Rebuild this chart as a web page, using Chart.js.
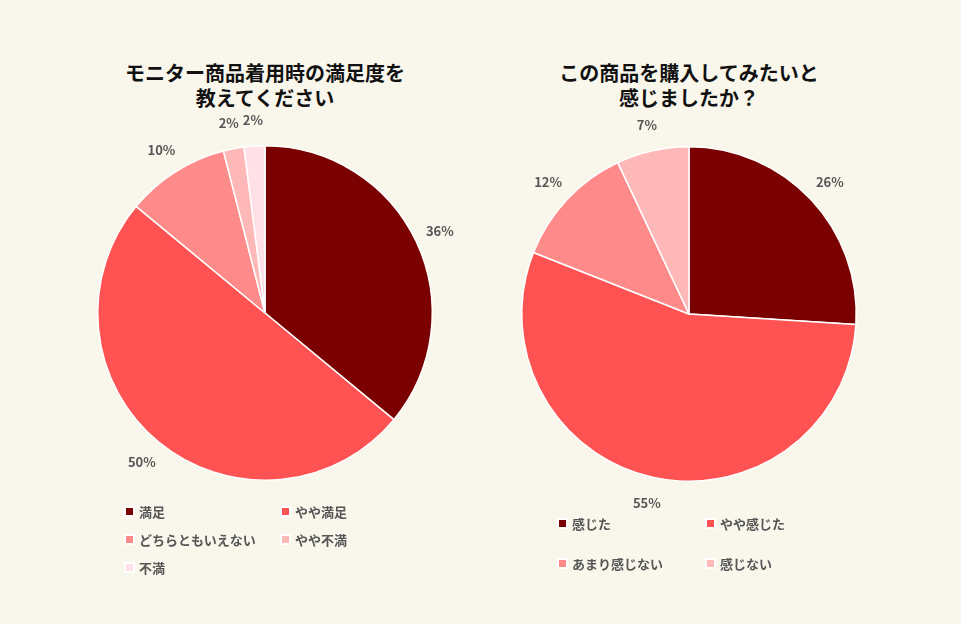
<!DOCTYPE html>
<html><head><meta charset="utf-8">
<script src="https://cdn.jsdelivr.net/npm/chart.js@4/dist/chart.umd.min.js"></script>
<style>
body{margin:0;width:961px;height:624px;background:#f9f7ec;position:relative;overflow:hidden;font-family:"Noto Sans CJK JP",sans-serif}
.t{position:absolute;width:440px;text-align:center;font-weight:bold;font-size:20px;line-height:25px;color:#111}
.c{position:absolute;width:440px;height:440px}
.lg{position:absolute;font-size:13px;font-weight:bold;color:#555}
.it{position:absolute;white-space:nowrap;display:flex;align-items:center}
.it i{display:inline-block;width:7px;height:7px;border:2px solid #fff;margin-right:4px}
</style></head><body>
<div class="t" style="left:45px;top:60px">モニター商品着用時の満足度を<br>教えてください</div>
<div class="t" style="left:469px;top:60px">この商品を購入してみたいと<br>感じましたか？</div>
<div class="c" style="left:45px;top:93px"><canvas id="a"></canvas></div>
<div class="c" style="left:469px;top:94px"><canvas id="b"></canvas></div>
<div class="lg" id="la"></div><div class="lg" id="lb"></div>
<script>
const labelsA=["満足","やや満足","どちらともいえない","やや不満","不満"];
const valuesA=[36,50,10,2,2];
const colorsA=["#7b0000","#ff5252","#ff8a8a","#ffb8b8","#ffe0e6"];
const labelsB=["感じた","やや感じた","あまり感じない","感じない"];
const valuesB=[26,55,12,7];
const colorsB=["#7b0000","#ff5252","#ff8a8a","#ffb8b8"];
const outLabels={id:'ol',afterDatasetsDraw(ch){const c=ch.ctx;const ds=ch.data.datasets[0];
 ch.getDatasetMeta(0).data.forEach((arc,i)=>{const m=(arc.startAngle+arc.endAngle)/2;const r=arc.outerRadius+26;
 c.save();c.font='bold 13px "Noto Sans CJK JP"';c.fillStyle='#555';c.textAlign='center';c.textBaseline='middle';
 c.fillText(ds.data[i]+'%',arc.x+Math.cos(m)*r,arc.y+Math.sin(m)*r);c.restore();});}};
function mk(id,l,v,col){return new Chart(document.getElementById(id),{type:'pie',data:{labels:l,datasets:[{data:v,backgroundColor:col,borderColor:'#fff',borderWidth:1.5}]},
 options:{responsive:false,animation:false,layout:{padding:52},plugins:{legend:{display:false},tooltip:{enabled:false}}},plugins:[outLabels]});}
document.getElementById('a').width=440;document.getElementById('a').height=440;
document.getElementById('b').width=440;document.getElementById('b').height=440;
mk('a',labelsA,valuesA,colorsA);mk('b',labelsB,valuesB,colorsB);
function leg(id,l,col,xs,ys){const e=document.getElementById(id);l.forEach((t,i)=>{const d=document.createElement('div');d.className='it';
 d.style.left=xs[i%2]+'px';d.style.top=ys[Math.floor(i/2)]+'px';d.innerHTML='<i style="background:'+col[i]+'"></i>'+t;e.appendChild(d);});}
leg('la',labelsA,colorsA,[124,280],[502,530,558]);
leg('lb',labelsB,colorsB,[557,705],[514,554]);
</script></body></html>
